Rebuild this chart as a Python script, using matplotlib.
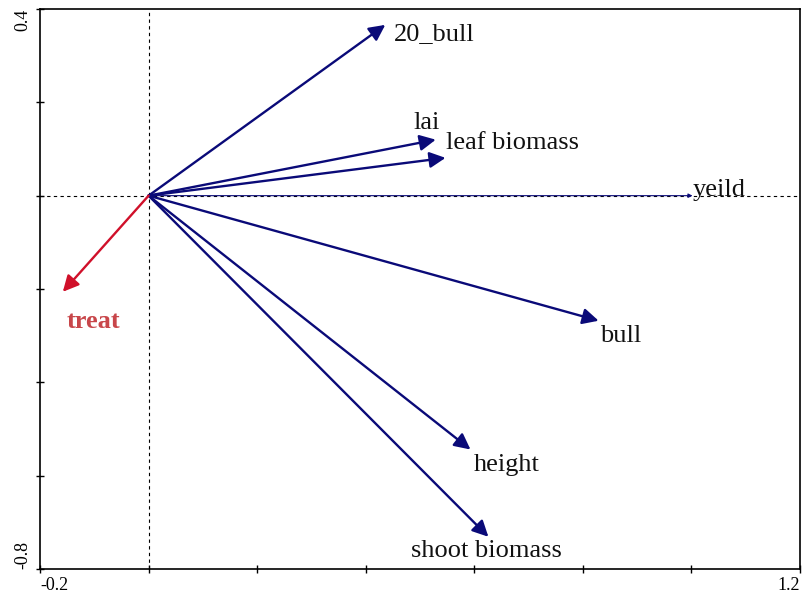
import numpy as np
import matplotlib.pyplot as plt

plt.rcParams['font.family'] = ['Liberation Serif', 'DejaVu Serif']

# Biplot vectors (species / environmental arrows)
names = ["20_bull", "lai", "leaf biomass", "yeild", "bull", "height", "shoot biomass"]
xs = [0.436, 0.529, 0.547, 1.002, 0.829, 0.593, 0.626]
ys = [0.366, 0.120, 0.081, 0.000, -0.268, -0.544, -0.731]

env_name = "treat"
env_x = -0.158
env_y = -0.206

# label offsets in data units (dx, dy)
lab_dx = [0.015, -0.041, 0.0, 0.0, 0.003, 0.006, -0.142]
lab_dy = [-0.020, 0.036, 0.032, 0.012, -0.033, -0.033, -0.031]

fig = plt.figure(figsize=(8.02, 5.93), dpi=100)
ax = fig.add_axes([0.0499, 0.0405, 0.9476, 0.9443])

ax.set_xlim(-0.2, 1.2)
ax.set_ylim(-0.8, 0.4)

ax.axhline(0, color='black', linestyle=(0, (3, 3)), linewidth=0.8, zorder=1)
ax.axvline(0, color='black', linestyle=(0, (3, 3)), linewidth=0.8, zorder=1)

for i in range(len(names)):
    thin = names[i] == "yeild"
    ax.annotate("", xy=(xs[i], ys[i]), xytext=(0, 0),
                arrowprops=dict(arrowstyle='-|>', color='#0a0a78',
                                lw=0.8 if thin else 1.7,
                                mutation_scale=6 if thin else 24,
                                shrinkA=0, shrinkB=0), zorder=3)
    ax.text(xs[i] + lab_dx[i], ys[i] + lab_dy[i], names[i],
            fontsize=19, color='#111111', ha='left', va='center', zorder=4)

ax.annotate("", xy=(env_x, env_y), xytext=(0, 0),
            arrowprops=dict(arrowstyle='-|>', color='#d0102a', lw=1.7,
                            mutation_scale=24, shrinkA=0, shrinkB=0), zorder=3)
ax.text(env_x + 0.007, env_y - 0.063, env_name, fontsize=19, fontweight='bold',
        color='#c8464a', ha='left', va='center')

ax.set_xticks(np.arange(-0.2, 1.21, 0.2))
ax.set_yticks(np.arange(-0.8, 0.41, 0.2))
ax.set_xticklabels(["-0.2", "", "", "", "", "", "", "1.2"])
ax.set_yticklabels(["-0.8", "", "", "", "", "", "0.4"], rotation=90)
ax.tick_params(direction='inout', length=6, width=1, labelsize=13, pad=3)
xl = ax.get_xticklabels()
xl[0].set_ha('left')
xl[-1].set_ha('right')
yl = ax.get_yticklabels()
yl[0].set_va('bottom')
yl[-1].set_va('top')
for s in ax.spines.values():
    s.set_linewidth(1.2)

fig.savefig("out.png", dpi=100)
